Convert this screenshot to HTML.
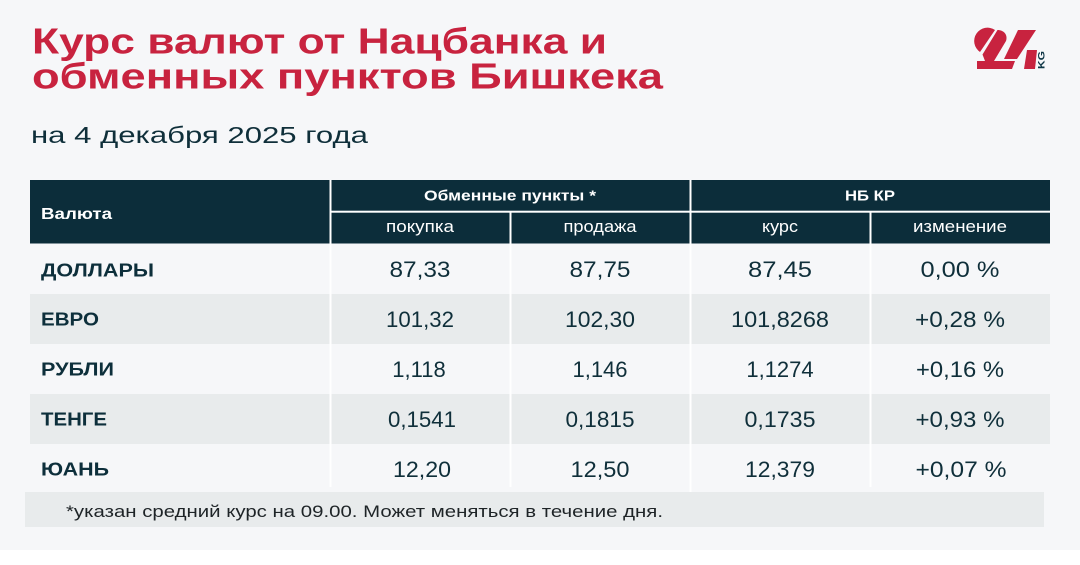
<!DOCTYPE html>
<html lang="ru">
<head>
<meta charset="utf-8">
<style>
  html,body{margin:0;padding:0;background:#ffffff;}
  body{width:1080px;height:565px;overflow:hidden;}
  svg{display:block;}
  text{font-family:"Liberation Sans","DejaVu Sans",sans-serif;}
</style>
</head>
<body>
<svg width="1080" height="565" viewBox="0 0 1080 565" xmlns="http://www.w3.org/2000/svg">
  <!-- backgrounds -->
  <rect x="0" y="0" width="1080" height="550" fill="#f6f7f9"/>
  <rect x="0" y="550" width="1080" height="15" fill="#ffffff"/>

  <!-- title -->
  <text x="32" y="53.5" font-size="36" font-weight="bold" fill="#c8233f" textLength="575" lengthAdjust="spacingAndGlyphs">Курс валют от Нацбанка и</text>
  <text x="32" y="88.5" font-size="36" font-weight="bold" fill="#c8233f" textLength="631" lengthAdjust="spacingAndGlyphs">обменных пунктов Бишкека</text>
  <text x="31" y="143" font-size="23" fill="#0f2f3a" textLength="337" lengthAdjust="spacingAndGlyphs">на 4 декабря 2025 года</text>

  <!-- logo -->
  <g transform="translate(977,30)" fill="#c8233f">
    <path d="M18,0 A13,13 0 0 0 3,22 Z"/>
    <path d="M20.5,0 C27,0 31,5 29,11 L17,31 L8,31 L5.5,24.5 Z"/>
    <path d="M0,31 L38,31 L35,39 L0,39 Z"/>
    <path d="M41,0 L59,0 L40,29 L27,29 Z"/>
    <path d="M50,20 L60,20 L58,39 L47,39 Z"/>
  </g>
  <text transform="translate(1044.5,60) rotate(-90)" text-anchor="middle" font-size="9" font-weight="bold" fill="#0d3545" textLength="18" lengthAdjust="spacingAndGlyphs">KG</text>

  <!-- table header -->
  <rect x="30" y="180" width="1020" height="63.5" fill="#0c2d3a"/>
  <!-- body striped rows -->
  <rect x="30" y="294" width="1020" height="50" fill="#e8ebec"/>
  <rect x="30" y="394" width="1020" height="50" fill="#e8ebec"/>

  <!-- white separators -->
  <rect x="329.5" y="180" width="2" height="307" fill="#ffffff"/>
  <rect x="689.5" y="180" width="2" height="312" fill="#ffffff"/>
  <rect x="509.5" y="211" width="2" height="276" fill="#ffffff"/>
  <rect x="869.5" y="211" width="2" height="276" fill="#ffffff"/>
  <rect x="330" y="210.7" width="720" height="2" fill="#ffffff"/>

  <!-- header text -->
  <text x="41" y="219" font-size="16" font-weight="bold" fill="#ffffff" textLength="71" lengthAdjust="spacingAndGlyphs">Валюта</text>
  <text x="510" y="200.5" text-anchor="middle" font-size="15" font-weight="bold" fill="#ffffff" textLength="172" lengthAdjust="spacingAndGlyphs">Обменные пункты *</text>
  <text x="870" y="200.5" text-anchor="middle" font-size="15" font-weight="bold" fill="#ffffff" textLength="50" lengthAdjust="spacingAndGlyphs">НБ КР</text>

  <g font-size="17" fill="#ffffff" text-anchor="middle">
    <text x="420" y="232" textLength="68" lengthAdjust="spacingAndGlyphs">покупка</text>
    <text x="600" y="232" textLength="73" lengthAdjust="spacingAndGlyphs">продажа</text>
    <text x="780" y="232" textLength="36" lengthAdjust="spacingAndGlyphs">курс</text>
    <text x="960" y="232" textLength="94" lengthAdjust="spacingAndGlyphs">изменение</text>
  </g>

  <!-- row labels -->
  <g font-size="18" font-weight="bold" fill="#0d2f3b">
    <text x="41" y="276.5" textLength="113" lengthAdjust="spacingAndGlyphs">ДОЛЛАРЫ</text>
    <text x="41" y="325.5" textLength="58" lengthAdjust="spacingAndGlyphs">ЕВРО</text>
    <text x="41" y="375.5" textLength="73" lengthAdjust="spacingAndGlyphs">РУБЛИ</text>
    <text x="41" y="425.5" textLength="66" lengthAdjust="spacingAndGlyphs">ТЕНГЕ</text>
    <text x="41" y="475.5" textLength="68" lengthAdjust="spacingAndGlyphs">ЮАНЬ</text>
  </g>

  <!-- values -->
  <g font-size="22" fill="#0f2f3a" text-anchor="middle">
    <text x="420" y="277" textLength="61" lengthAdjust="spacingAndGlyphs">87,33</text>
    <text x="600" y="277" textLength="61" lengthAdjust="spacingAndGlyphs">87,75</text>
    <text x="780" y="277" textLength="64" lengthAdjust="spacingAndGlyphs">87,45</text>
    <text x="960" y="277" textLength="79" lengthAdjust="spacingAndGlyphs">0,00 %</text>

    <text x="420" y="327" textLength="68" lengthAdjust="spacingAndGlyphs">101,32</text>
    <text x="600" y="327" textLength="70" lengthAdjust="spacingAndGlyphs">102,30</text>
    <text x="780" y="327" textLength="98" lengthAdjust="spacingAndGlyphs">101,8268</text>
    <text x="960" y="327" textLength="90" lengthAdjust="spacingAndGlyphs">+0,28 %</text>

    <text x="419" y="377">1,118</text>
    <text x="600" y="377">1,146</text>
    <text x="780" y="377">1,1274</text>
    <text x="960" y="377" textLength="88" lengthAdjust="spacingAndGlyphs">+0,16 %</text>

    <text x="422" y="427" textLength="68" lengthAdjust="spacingAndGlyphs">0,1541</text>
    <text x="600" y="427" textLength="69" lengthAdjust="spacingAndGlyphs">0,1815</text>
    <text x="780" y="427" textLength="71" lengthAdjust="spacingAndGlyphs">0,1735</text>
    <text x="960" y="427" textLength="89" lengthAdjust="spacingAndGlyphs">+0,93 %</text>

    <text x="422" y="477" textLength="58" lengthAdjust="spacingAndGlyphs">12,20</text>
    <text x="600" y="477" textLength="59" lengthAdjust="spacingAndGlyphs">12,50</text>
    <text x="780" y="477" textLength="70" lengthAdjust="spacingAndGlyphs">12,379</text>
    <text x="961" y="477" textLength="91" lengthAdjust="spacingAndGlyphs">+0,07 %</text>
  </g>

  <!-- footnote -->
  <rect x="25" y="492" width="1019" height="35" fill="#e8ebec"/>
  <text x="66" y="517" font-size="17" fill="#1e2427" textLength="597" lengthAdjust="spacingAndGlyphs">*указан средний курс на 09.00. Может меняться в течение дня.</text>
</svg>
</body>
</html>
